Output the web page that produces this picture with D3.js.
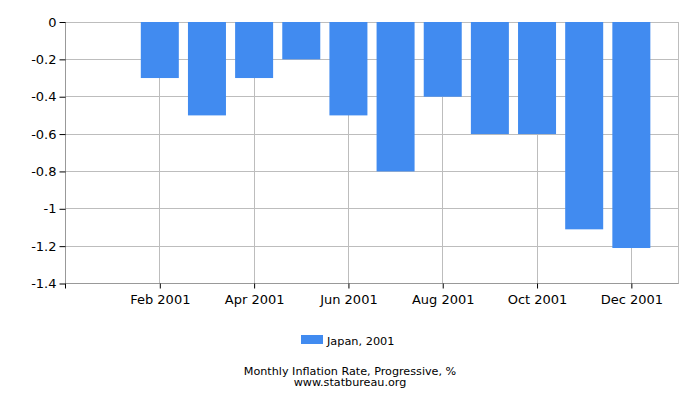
<!DOCTYPE html>
<html><head><meta charset="utf-8">
<script src="https://cdn.jsdelivr.net/npm/d3@7"></script>
<style>body{margin:0;background:#fff}svg{display:block;font-family:"DejaVu Sans",sans-serif}</style>
</head><body>
<svg id="c" width="700" height="400"></svg>
<script>
const months = ["Jan","Feb","Mar","Apr","May","Jun","Jul","Aug","Sep","Oct","Nov","Dec"];
const values = [null,-0.3,-0.5,-0.3,-0.2,-0.5,-0.8,-0.4,-0.6,-0.6,-1.11,-1.21];
const yTicks = [0,-0.2,-0.4,-0.6,-0.8,-1,-1.2,-1.4];
const xTickIdx = [1,3,5,7,9,11];
const year = "2001";
const seriesName = "Japan, 2001";
const title = "Monthly Inflation Rate, Progressive, %";
const source = "www.statbureau.org";

const svg = d3.select("#c");
const L=65.5,R=678.5,T=22,B=283.5;
const x = d3.scaleLinear().domain([-1,12]).range([L,R]);
const y = d3.scaleLinear().domain([-1.4,0]).range([B,T]);
const color="#418bf0";

// grid
svg.append("g").selectAll("line").data(yTicks).join("line")
  .attr("x1",L).attr("x2",R).attr("y1",d=>y(d)).attr("y2",d=>y(d))
  .attr("stroke","#bdbdbd").attr("stroke-width",1).attr("shape-rendering","crispEdges");
svg.append("g").selectAll("line").data(xTickIdx).join("line")
  .attr("x1",d=>x(d)).attr("x2",d=>x(d)).attr("y1",T).attr("y2",B)
  .attr("stroke","#bdbdbd").attr("shape-rendering","crispEdges");
svg.append("line").attr("x1",R).attr("x2",R).attr("y1",T).attr("y2",B)
  .attr("stroke","#bdbdbd").attr("shape-rendering","crispEdges");

// bars
const bw=38;
svg.append("g").selectAll("rect").data(values.map((v,i)=>({v,i})).filter(d=>d.v!==null)).join("rect")
  .attr("x",d=>x(d.i)-bw/2).attr("width",bw)
  .attr("y",y(0)).attr("height",d=>y(d.v)-y(0))
  .attr("fill",color);

// axes
const yAxis = d3.axisLeft(y).tickValues(yTicks).tickSize(6).tickPadding(3).tickFormat(d=>d===0?"0":String(d));
const gy = svg.append("g").attr("transform",`translate(${L},0)`).call(yAxis);
gy.select(".domain").attr("stroke","#999").attr("d",`M0,${T}V${B}`);
gy.selectAll(".tick line").attr("stroke","#000");
gy.selectAll("text").attr("font-size",13).attr("fill","#000").attr("font-family","DejaVu Sans");

const xAxis = d3.axisBottom(x).tickValues(xTickIdx).tickSize(5).tickPadding(6).tickFormat(i=>months[i]+" "+year);
const gx = svg.append("g").attr("transform",`translate(0,${B})`).call(xAxis);
gx.select(".domain").attr("stroke","#999").attr("d",`M${L},0H${R}`);
gx.selectAll(".tick line").attr("stroke","#000");
gx.selectAll("text").attr("font-size",13).attr("fill","#000").attr("font-family","DejaVu Sans");
gx.append("line").attr("x1",L).attr("x2",L).attr("y1",0).attr("y2",5).attr("stroke","#000");

// legend
svg.append("rect").attr("x",301).attr("y",335).attr("width",22).attr("height",9).attr("fill",color);
svg.append("text").attr("x",327).attr("y",344.5).attr("font-size",11.3).attr("fill","#000").text(seriesName);

svg.append("text").attr("x",350).attr("y",375).attr("text-anchor","middle").attr("font-size",11.2).attr("fill","#000").text(title);
svg.append("text").attr("x",350).attr("y",386).attr("text-anchor","middle").attr("font-size",11.2).attr("fill","#000").text(source);
</script>
</body></html>
